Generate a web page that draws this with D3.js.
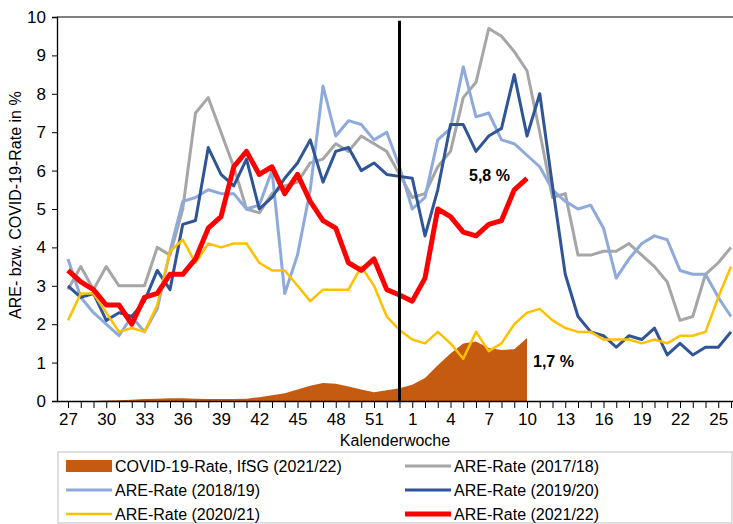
<!DOCTYPE html>
<html><head><meta charset="utf-8">
<script src="https://cdn.jsdelivr.net/npm/d3@7"></script>
<style>body{margin:0;background:#fff}text{font-family:"Liberation Sans",Arial,sans-serif}</style>
</head><body>
<script>
var weeks = d3.range(27, 54).concat(d3.range(1, 27));
var covid = [0,0,0,0.01,0.02,0.03,0.05,0.06,0.07,0.07,0.06,0.05,0.05,0.05,0.06,0.1,0.15,0.2,0.3,0.4,0.47,0.45,0.38,0.3,0.23,0.28,0.33,
  0.42,0.6,0.93,1.24,1.5,1.55,1.38,1.33,1.35,1.64];
var are1718 = [2.9,3.5,2.9,3.5,3.0,3.0,3.0,4.0,3.8,5.0,7.5,7.9,7.0,6.1,5.0,4.9,5.4,5.6,5.7,6.2,6.3,6.7,6.5,6.9,6.7,6.5,5.9,
  5.3,5.4,6.1,6.5,7.9,8.3,9.7,9.5,9.1,8.6,7.0,5.3,5.4,3.8,3.8,3.9,3.9,4.1,3.8,3.5,3.1,2.1,2.2,3.3,3.6,4.0];
var are1819 = [3.7,2.7,2.3,2.0,1.7,2.2,1.8,2.4,3.9,5.2,5.3,5.5,5.4,5.4,5.0,5.1,6.0,2.8,3.8,5.5,8.2,6.9,7.3,7.2,6.8,7.0,6.1,
  5.0,5.3,6.8,7.1,8.7,7.4,7.5,6.8,6.7,6.4,6.1,5.5,5.2,5.0,5.1,4.5,3.2,3.7,4.1,4.3,4.2,3.4,3.3,3.3,2.7,2.2];
var are1920 = [3.0,2.7,2.8,2.1,2.3,2.2,2.6,3.4,2.9,4.6,4.7,6.6,5.9,5.6,6.3,5.0,5.3,5.8,6.2,6.8,5.7,6.5,6.6,6.0,6.2,5.9,5.85,
  5.8,4.3,5.5,7.2,7.2,6.5,6.9,7.1,8.5,6.9,8.0,5.6,3.3,2.2,1.8,1.7,1.4,1.7,1.6,1.9,1.2,1.5,1.2,1.4,1.4,1.8];
var are2021 = [2.1,2.8,2.8,2.3,1.8,1.9,1.8,2.5,3.9,4.2,3.6,4.1,4.0,4.1,4.1,3.6,3.4,3.4,3.0,2.6,2.9,2.9,2.9,3.5,3.0,2.2,1.85,
  1.6,1.5,1.8,1.5,1.1,1.8,1.3,1.5,2.0,2.3,2.4,2.1,1.9,1.8,1.8,1.6,1.6,1.6,1.5,1.6,1.5,1.7,1.7,1.8,2.7,3.5];
var are2122 = [3.4,3.1,2.9,2.5,2.5,2.0,2.7,2.8,3.3,3.3,3.7,4.5,4.8,6.1,6.5,5.9,6.1,5.4,5.9,5.2,4.7,4.5,3.6,3.4,3.7,2.9,2.76,
  2.6,3.2,5.0,4.8,4.4,4.3,4.6,4.7,5.5,5.8];
var yTicks = d3.range(0, 11);

var W = 733, H = 524, m = {l: 57, t: 17, r: 0, b: 123};
var svg = d3.select("body").append("svg").attr("width", W).attr("height", H);
var x = d3.scalePoint().domain(d3.range(weeks.length)).range([68, 731]);
var y = d3.scaleLinear().domain([0, 10]).range([H - m.b, m.t]);

// top frame line
svg.append("line").attr("x1", m.l).attr("x2", W).attr("y1", m.t).attr("y2", m.t).attr("stroke", "#000");

svg.append("path").datum(covid)
	.attr("fill", "#c55a11")
	.attr("d", d3.area().x(function(d, i) { return x(i); }).y0(y(0)).y1(function(d) { return y(d); }));

var series = [
	{v: are1718, c: "#a6a6a6", w: 3},
	{v: are1819, c: "#8eaadb", w: 3},
	{v: are1920, c: "#2f5597", w: 3},
	{v: are2021, c: "#ffc000", w: 2.5},
	{v: are2122, c: "#ff0000", w: 5}
];
var line = d3.line().x(function(d, i) { return x(i); }).y(function(d) { return y(d); });
series.forEach(function(s) {
	svg.append("path").datum(s.v).attr("fill", "none").attr("stroke", s.c)
		.attr("stroke-width", s.w).attr("stroke-linejoin", "round").attr("d", line);
});

// year boundary
svg.append("line").attr("x1", x(26)).attr("x2", x(26)).attr("y1", y(9.9)).attr("y2", y(0))
	.attr("stroke", "#000").attr("stroke-width", 3);

var ya = svg.append("g").attr("transform", "translate(" + m.l + ",0)")
	.call(d3.axisLeft(y).tickValues(yTicks).tickSize(5).tickPadding(6));
var xa = svg.append("g").attr("transform", "translate(0," + y(0) + ")")
	.call(d3.axisBottom(x).tickSize(7).tickPadding(5)
		.tickFormat(function(i) { return i % 3 === 0 ? weeks[i] : ""; }));
[ya, xa].forEach(function(a) {
	a.select(".domain").attr("stroke", "#000").attr("stroke-width", 1.3);
	a.selectAll("text").attr("font-size", 17).attr("fill", "#000").attr("font-family", "Liberation Sans, Arial");
});
xa.select(".domain").attr("d", "M" + m.l + ",0.5H" + W);

svg.append("text").attr("x", 395).attr("y", 446).attr("text-anchor", "middle").attr("font-size", 16).text("Kalenderwoche");
svg.append("text").attr("transform", "translate(21," + y(5.1) + ") rotate(-90)")
	.attr("text-anchor", "middle").attr("font-size", 16).text("ARE- bzw. COVID-19-Rate in %");
svg.append("text").attr("x", 469).attr("y", 181).attr("font-size", 16).attr("font-weight", "bold").text("5,8 %");
svg.append("text").attr("x", 533).attr("y", 367).attr("font-size", 16).attr("font-weight", "bold").text("1,7 %");

// legend
var lg = svg.append("g");
lg.append("rect").attr("x", 58).attr("y", 452).attr("width", 674).attr("height", 71)
	.attr("fill", "none").attr("stroke", "#bfbfbf");
var items = [
	{t: "COVID-19-Rate, IfSG (2021/22)", c: "#c55a11", area: true},
	{t: "ARE-Rate (2017/18)", c: "#a6a6a6", w: 3},
	{t: "ARE-Rate (2018/19)", c: "#8eaadb", w: 3},
	{t: "ARE-Rate (2019/20)", c: "#2f5597", w: 3},
	{t: "ARE-Rate (2020/21)", c: "#ffc000", w: 2.5},
	{t: "ARE-Rate (2021/22)", c: "#ff0000", w: 5}
];
items.forEach(function(d, i) {
	var gx = i % 2 ? 405 : 66, gy = 466 + Math.floor(i / 2) * 24;
	if (d.area) lg.append("rect").attr("x", gx).attr("y", gy - 6).attr("width", 46).attr("height", 12).attr("fill", d.c);
	else lg.append("line").attr("x1", gx).attr("x2", gx + 46).attr("y1", gy).attr("y2", gy)
		.attr("stroke", d.c).attr("stroke-width", d.w);
	lg.append("text").attr("x", gx + 49).attr("y", gy + 6).attr("font-size", 16).text(d.t);
});
</script>
</body></html>
